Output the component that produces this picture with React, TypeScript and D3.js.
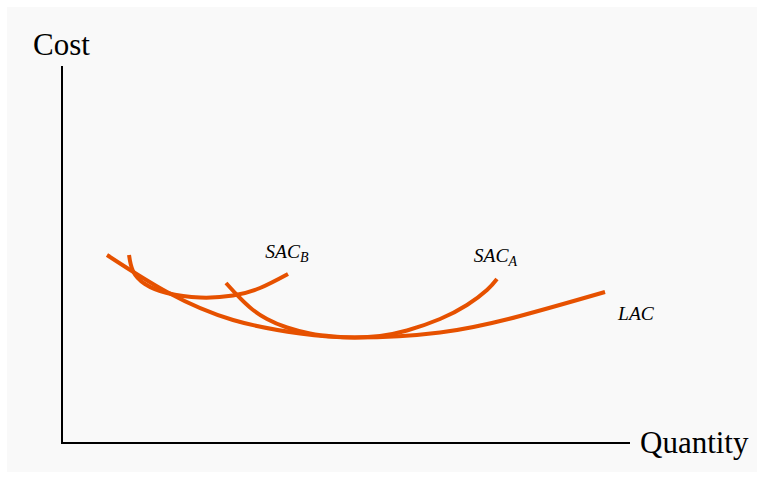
import React from "react";
import * as d3 from "d3";

// Curve shapes (quantity, cost in arbitrary units)
const lacQ = [0.792, 1.849, 3.011, 4.19, 5.158, 6.655, 8.063, 9.56];
const lacC = [4.987, 4.005, 3.263, 2.905, 2.798, 2.931, 3.369, 4.005];

const sacBQ = [1.18, 1.25, 1.461, 1.849, 2.43, 3.011, 3.486, 3.979];
const sacBC = [4.987, 4.562, 4.218, 3.979, 3.859, 3.912, 4.111, 4.483];

const sacAQ = [2.887, 3.081, 3.31, 3.609, 3.961, 4.366, 4.771, 5.158, 5.599, 6.074, 6.655, 7.13, 7.482, 7.658];
const sacAC = [4.244, 3.926, 3.594, 3.289, 3.064, 2.905, 2.825, 2.798, 2.838, 2.984, 3.289, 3.66, 4.058, 4.35];

const labels = [
  { main: "SAC", sub: "B", q: 3.58, c: 4.91 },
  { main: "SAC", sub: "A", q: 7.25, c: 4.8 },
  { main: "LAC", sub: "", q: 9.79, c: 3.27 },
];

const W = 764;
const H = 478;

export default function App() {
  const x = d3.scaleLinear().domain([0, 10]).range([62, 630]);
  const y = d3.scaleLinear().domain([0, 10]).range([443, 66]);
  const line = d3
    .line<[number, number]>()
    .x((d) => x(d[0]))
    .y((d) => y(d[1]))
    .curve(d3.curveNatural);
  const zip = (a: number[], b: number[]) => a.map((v, i) => [v, b[i]] as [number, number]);
  const color = "#e65100";
  const font = "'Liberation Serif', 'Times New Roman', serif";
  return (
    <svg
      width={W}
      height={H}
      style={{ position: "absolute", left: 0, top: 0 }}
      viewBox={`0 0 ${W} ${H}`}
    >
      <rect x={0} y={0} width={W} height={H} fill="#ffffff" />
      <rect x={7} y={7} width={750} height={465} fill="#f9f9f9" />
      <line x1={x(0)} y1={y(0)} x2={x(0)} y2={y(10)} stroke="#000" strokeWidth={2} />
      <line x1={x(0) - 1} y1={y(0)} x2={x(10)} y2={y(0)} stroke="#000" strokeWidth={2} />
      <text x={33} y={55} fontFamily={font} fontSize={31} fill="#000">
        Cost
      </text>
      <text x={640} y={453} fontFamily={font} fontSize={31} fill="#000">
        Quantity
      </text>
      <path d={line(zip(lacQ, lacC)) || ""} fill="none" stroke={color} strokeWidth={4} />
      <path d={line(zip(sacBQ, sacBC)) || ""} fill="none" stroke={color} strokeWidth={4} />
      <path d={line(zip(sacAQ, sacAC)) || ""} fill="none" stroke={color} strokeWidth={4} />
      {labels.map((l, i) => (
        <text
          key={i}
          x={x(l.q)}
          y={y(l.c)}
          fontFamily={font}
          fontStyle="italic"
          fontSize={19.5}
          fill="#000"
        >
          {l.main}
          {l.sub && (
            <tspan fontSize={14} dy={4}>
              {l.sub}
            </tspan>
          )}
        </text>
      ))}
    </svg>
  );
}
